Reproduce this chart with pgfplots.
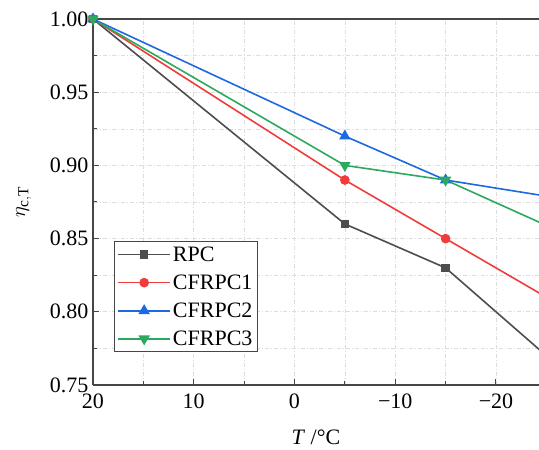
\documentclass[border=0pt]{standalone}
\usepackage{fontspec}
\setmainfont{Liberation Serif}
\usepackage{pgfplots}
\pgfplotsset{compat=1.18}
\definecolor{cRPC}{RGB}{77,77,77}
\definecolor{cC1}{RGB}{240,60,60}
\definecolor{cC2}{RGB}{30,105,225}
\definecolor{cC3}{RGB}{45,168,95}
\definecolor{axgray}{RGB}{70,70,70}
\definecolor{gridgray}{RGB}{220,220,220}
\newcommand{\bigf}{\fontsize{22}{25}\selectfont}
\begin{document}
\begin{tikzpicture}
\begin{axis}[
  scale only axis,
  width=446pt, height=366pt,
  x dir=reverse,
  xmin=-24.27, xmax=20,
  ymin=0.75, ymax=1.0,
  axis x line=box, axis y line=left,
  axis line style={-, line width=1.1pt, color=axgray},
  xtick pos=left, ytick pos=left,
  tick align=inside,
  major tick length=6pt, minor tick length=4pt,
  every tick/.style={line width=1pt, color=axgray},
  xtick={20,10,0,-10,-20},
  xticklabels={20,10,0,−10,−20},
  minor xtick={15,5,-5,-15},
  ytick={0.75,0.80,0.85,0.90,0.95,1.00},
  yticklabels={0.75,0.80,0.85,0.90,0.95,1.00},
  minor ytick={0.775,0.825,0.875,0.925,0.975},
  grid=both,
  major grid style={gridgray, line width=0.6pt, dash pattern=on 4pt off 2pt on 1pt off 2pt},
  minor grid style={gridgray, line width=0.6pt, dash pattern=on 4pt off 2pt on 1pt off 2pt},
  ticklabel style={font=\bigf},
  xticklabel style={yshift=-5pt},
  yticklabel style={xshift=-1pt},
  label style={font=\bigf},
  xlabel={\textit{T} /°C},
  xlabel style={yshift=-15pt},
  ylabel={$\eta_{\mathrm{c,T}}$},
  ylabel style={yshift=12pt},
  legend style={at={(rel axis cs:0.047,0.393)}, anchor=north west,
    font=\bigf, draw=axgray, line width=0.8pt, inner sep=3pt,
    row sep=8pt, cells={anchor=west}},
  legend image code/.code={\draw[line width=1.6pt, mark repeat=2,mark phase=2] plot coordinates {(0pt,0pt)(26pt,0pt)(52pt,0pt)};},
]
\addplot[cRPC, line width=1.6pt, mark=square*, mark size=3.5pt, mark options={solid}] coordinates {(20,1.00)(-5,0.86)(-15,0.83)(-25,0.77)};
\addlegendentry{RPC}
\addplot[cC1, line width=1.6pt, mark=*, mark size=4pt, mark options={solid}] coordinates {(20,1.00)(-5,0.89)(-15,0.85)(-25,0.81)};
\addlegendentry{CFRPC1}
\addplot[cC2, line width=1.6pt, mark=triangle*, mark size=5pt, mark options={solid}] coordinates {(20,1.00)(-5,0.92)(-15,0.89)(-25,0.879)};
\addlegendentry{CFRPC2}
\addplot[cC3, line width=1.6pt, mark=triangle*, mark size=5pt, mark options={solid, rotate=180}] coordinates {(20,1.00)(-5,0.90)(-15,0.89)(-25,0.859)};
\addlegendentry{CFRPC3}
\end{axis}
\pgfresetboundingbox
\path (current axis.south west) ++(-93pt,-65pt) coordinate (bl);
\path (current axis.north east) ++(0pt,19pt) coordinate (tr);
\path (bl) rectangle (tr);
\end{tikzpicture}
\end{document}
